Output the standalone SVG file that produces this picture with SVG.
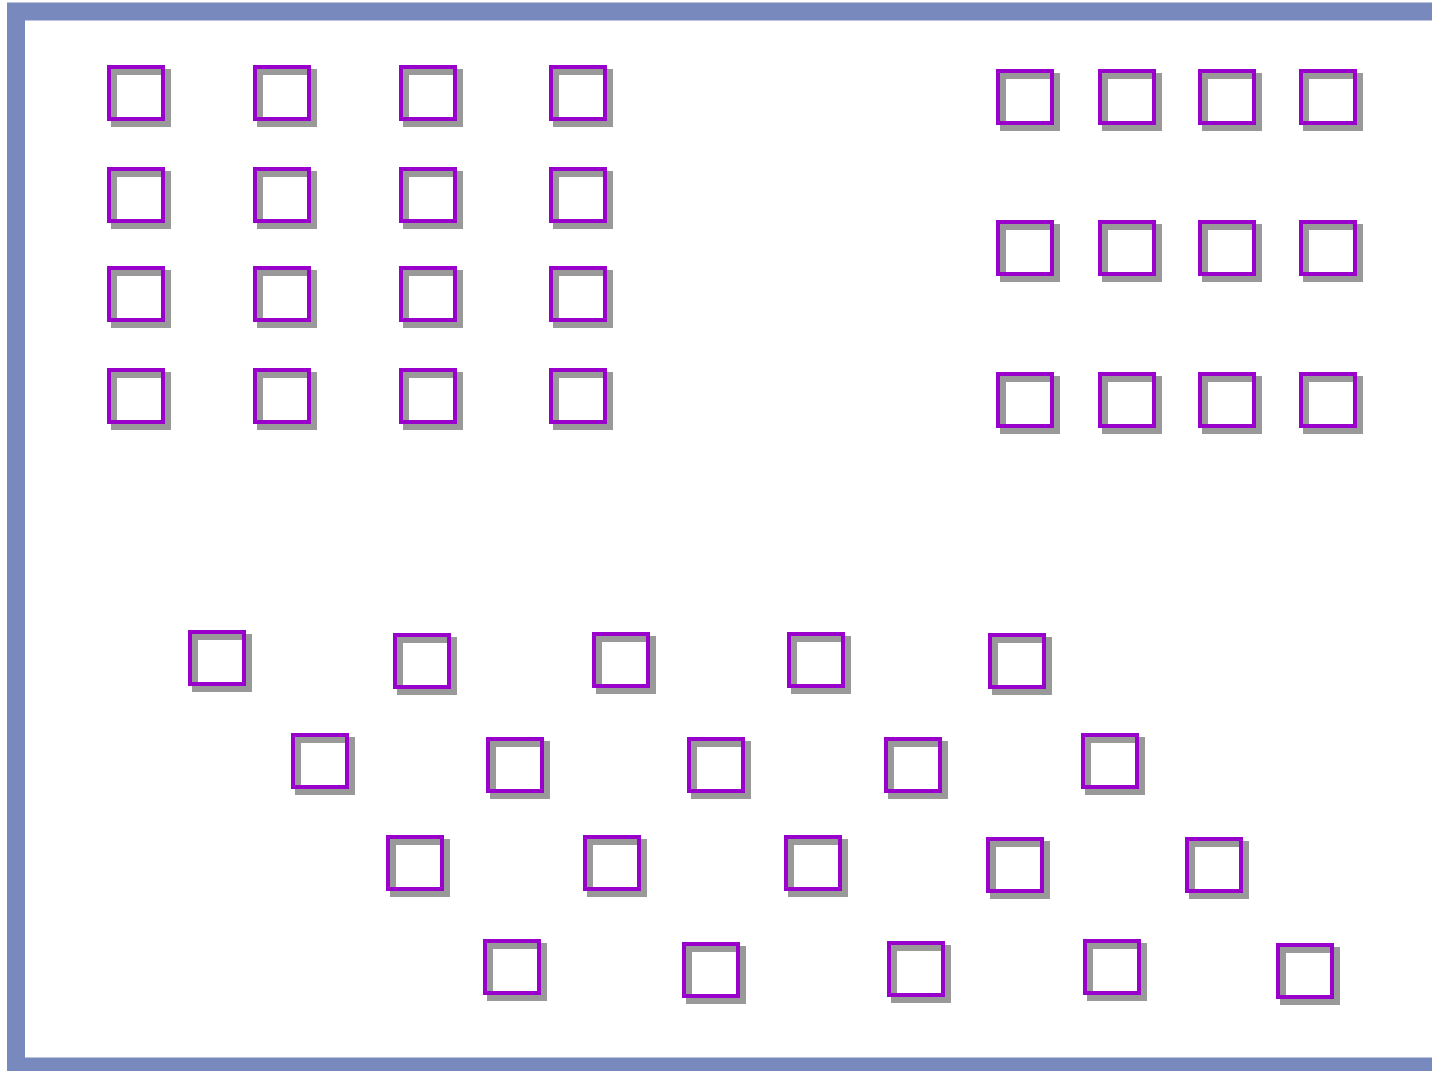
<svg xmlns="http://www.w3.org/2000/svg" width="1432" height="1071" viewBox="0 0 1432 1071">
<style>
.frame{fill:#ffffff;stroke:#7789bd;stroke-width:18}
.sh{fill:none;stroke:#999999;stroke-width:6}
.bx{fill:none;stroke:#9900cc;stroke-width:4}
</style>
<defs>
<g id="sq">
<rect class="sh" x="7" y="7" width="54" height="52"/>
<rect class="bx" x="2" y="2" width="54" height="52"/>
</g>
</defs>
<rect class="frame" x="16" y="11.5" width="1500" height="1055"/>
<g id="connectors"></g>
<g id="tl">
<g id="a11" transform="translate(107,65)"><use href="#sq"/></g>
<g id="a12" transform="translate(253,65)"><use href="#sq"/></g>
<g id="a13" transform="translate(399,65)"><use href="#sq"/></g>
<g id="a14" transform="translate(549,65)"><use href="#sq"/></g>
<g id="a21" transform="translate(107,167)"><use href="#sq"/></g>
<g id="a22" transform="translate(253,167)"><use href="#sq"/></g>
<g id="a23" transform="translate(399,167)"><use href="#sq"/></g>
<g id="a24" transform="translate(549,167)"><use href="#sq"/></g>
<g id="a31" transform="translate(107,266)"><use href="#sq"/></g>
<g id="a32" transform="translate(253,266)"><use href="#sq"/></g>
<g id="a33" transform="translate(399,266)"><use href="#sq"/></g>
<g id="a34" transform="translate(549,266)"><use href="#sq"/></g>
<g id="a41" transform="translate(107,368)"><use href="#sq"/></g>
<g id="a42" transform="translate(253,368)"><use href="#sq"/></g>
<g id="a43" transform="translate(399,368)"><use href="#sq"/></g>
<g id="a44" transform="translate(549,368)"><use href="#sq"/></g>
</g>
<g id="tr">
<g id="b11" transform="translate(996,69)"><use href="#sq"/></g>
<g id="b12" transform="translate(1098,69)"><use href="#sq"/></g>
<g id="b13" transform="translate(1198,69)"><use href="#sq"/></g>
<g id="b14" transform="translate(1299,69)"><use href="#sq"/></g>
<g id="b21" transform="translate(996,220)"><use href="#sq"/></g>
<g id="b22" transform="translate(1098,220)"><use href="#sq"/></g>
<g id="b23" transform="translate(1198,220)"><use href="#sq"/></g>
<g id="b24" transform="translate(1299,220)"><use href="#sq"/></g>
<g id="b31" transform="translate(996,372)"><use href="#sq"/></g>
<g id="b32" transform="translate(1098,372)"><use href="#sq"/></g>
<g id="b33" transform="translate(1198,372)"><use href="#sq"/></g>
<g id="b34" transform="translate(1299,372)"><use href="#sq"/></g>
</g>
<g id="bottom">
<g id="c11" transform="translate(188,630)"><use href="#sq"/></g>
<g id="c12" transform="translate(393,633)"><use href="#sq"/></g>
<g id="c13" transform="translate(592,632)"><use href="#sq"/></g>
<g id="c14" transform="translate(787,632)"><use href="#sq"/></g>
<g id="c15" transform="translate(988,633)"><use href="#sq"/></g>
<g id="c21" transform="translate(291,733)"><use href="#sq"/></g>
<g id="c22" transform="translate(486,737)"><use href="#sq"/></g>
<g id="c23" transform="translate(687,737)"><use href="#sq"/></g>
<g id="c24" transform="translate(884,737)"><use href="#sq"/></g>
<g id="c25" transform="translate(1081,733)"><use href="#sq"/></g>
<g id="c31" transform="translate(386,835)"><use href="#sq"/></g>
<g id="c32" transform="translate(583,835)"><use href="#sq"/></g>
<g id="c33" transform="translate(784,835)"><use href="#sq"/></g>
<g id="c34" transform="translate(986,837)"><use href="#sq"/></g>
<g id="c35" transform="translate(1185,837)"><use href="#sq"/></g>
<g id="c41" transform="translate(483,939)"><use href="#sq"/></g>
<g id="c42" transform="translate(682,942)"><use href="#sq"/></g>
<g id="c43" transform="translate(887,941)"><use href="#sq"/></g>
<g id="c44" transform="translate(1083,939)"><use href="#sq"/></g>
<g id="c45" transform="translate(1276,943)"><use href="#sq"/></g>
</g>
</svg>
